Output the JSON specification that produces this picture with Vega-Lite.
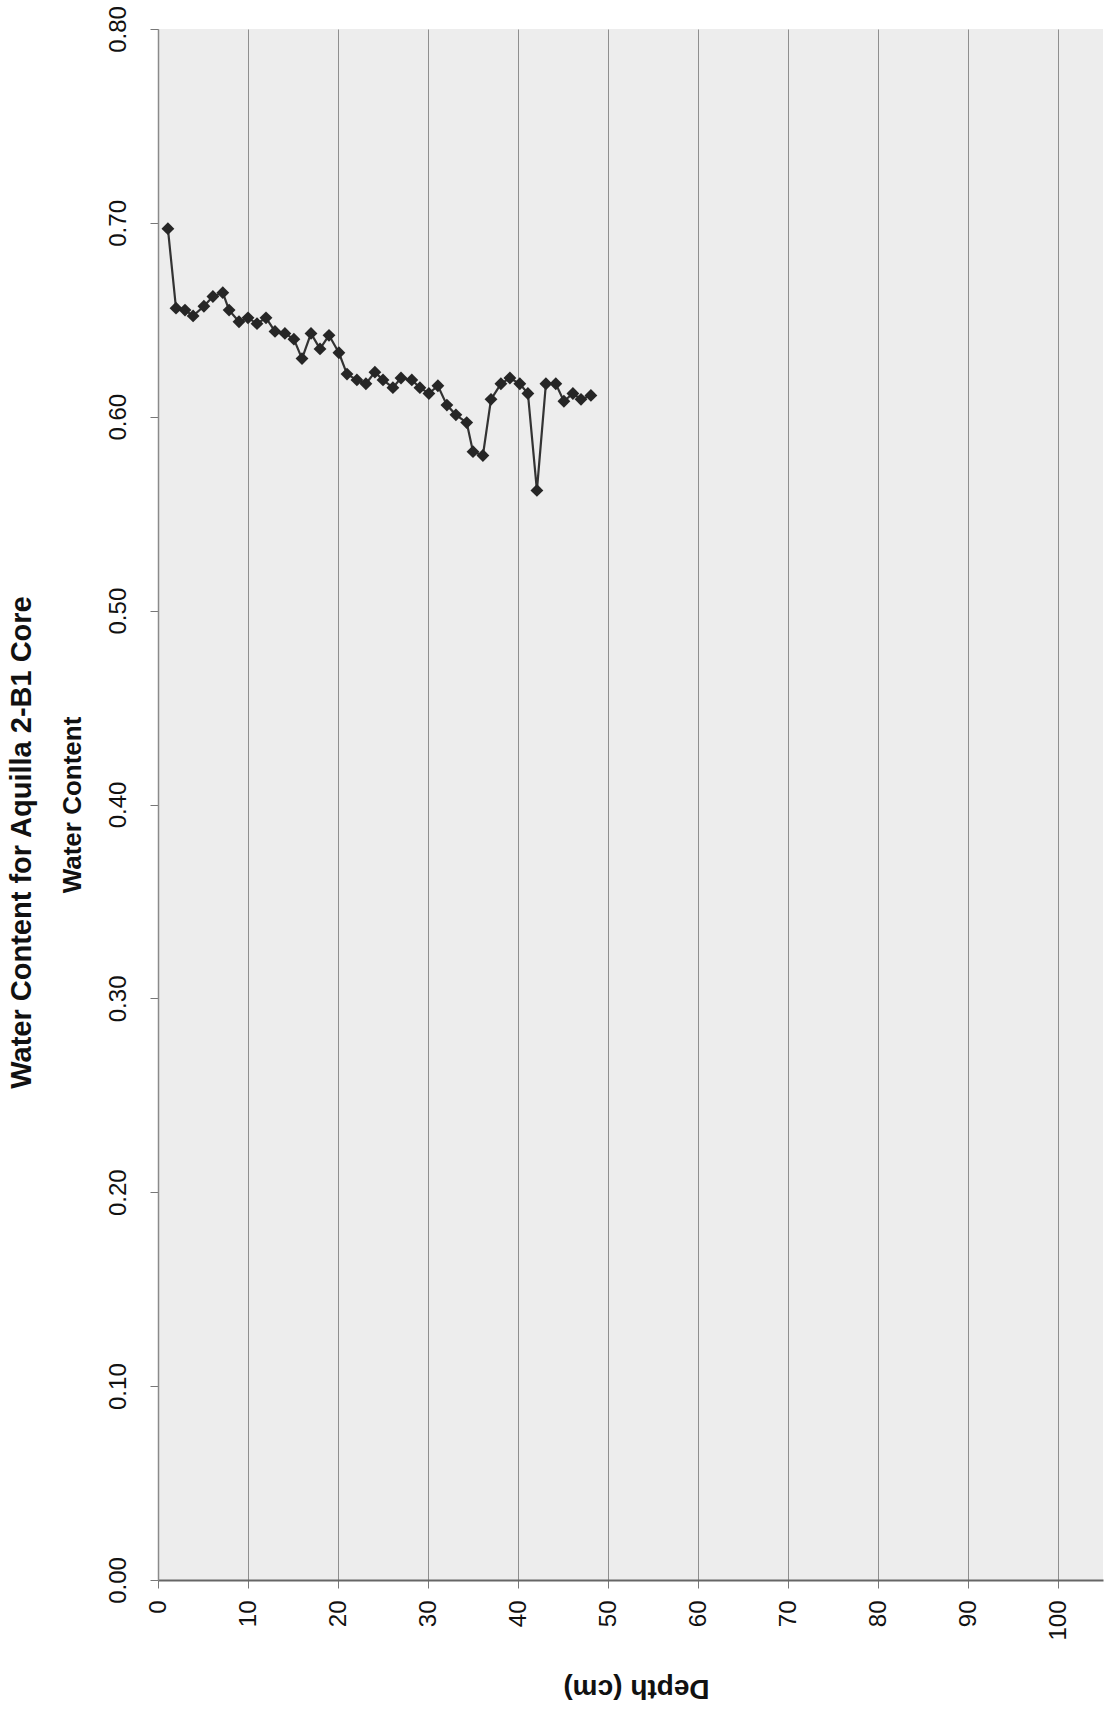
{
  "$schema": "https://vega.github.io/schema/vega-lite/v6.json",
  "width": 945,
  "height": 1551,
  "autosize": {"type": "none"},
  "padding": {"left": 158, "top": 29, "right": 1, "bottom": 135},
  "background": "white",
  "title": {
    "text": "Water Content for Aquilla 2-B1 Core",
    "orient": "left",
    "anchor": "middle",
    "frame": "group",
    "font": "Liberation Sans",
    "fontSize": 29,
    "fontWeight": "bold",
    "color": "#111111",
    "offset": 22,
    "dx": -38
  },
  "config": {
    "view": {"stroke": null, "fill": "#ededed"},
    "font": "Liberation Sans",
    "axis": {"labelFont": "Liberation Sans", "titleFont": "Liberation Sans", "labelColor": "#111111", "titleColor": "#111111", "labelOverlap": false, "labelFlush": false}
  },
  "data": {
    "values": [
      {"depth": 1.1, "wc": 0.697},
      {"depth": 2.0, "wc": 0.656},
      {"depth": 3.0, "wc": 0.655},
      {"depth": 3.9, "wc": 0.652},
      {"depth": 5.1, "wc": 0.657},
      {"depth": 6.1, "wc": 0.662},
      {"depth": 7.2, "wc": 0.664},
      {"depth": 7.9, "wc": 0.655},
      {"depth": 9.0, "wc": 0.649},
      {"depth": 10.0, "wc": 0.651},
      {"depth": 11.0, "wc": 0.648},
      {"depth": 12.0, "wc": 0.651},
      {"depth": 13.0, "wc": 0.644},
      {"depth": 14.1, "wc": 0.643},
      {"depth": 15.1, "wc": 0.640},
      {"depth": 16.0, "wc": 0.630},
      {"depth": 17.0, "wc": 0.643},
      {"depth": 18.0, "wc": 0.635},
      {"depth": 19.0, "wc": 0.642},
      {"depth": 20.1, "wc": 0.633},
      {"depth": 21.0, "wc": 0.622},
      {"depth": 22.1, "wc": 0.619},
      {"depth": 23.1, "wc": 0.617},
      {"depth": 24.1, "wc": 0.623},
      {"depth": 25.0, "wc": 0.619},
      {"depth": 26.1, "wc": 0.615},
      {"depth": 27.0, "wc": 0.620},
      {"depth": 28.2, "wc": 0.619},
      {"depth": 29.1, "wc": 0.615},
      {"depth": 30.1, "wc": 0.612},
      {"depth": 31.1, "wc": 0.616},
      {"depth": 32.1, "wc": 0.606},
      {"depth": 33.1, "wc": 0.601},
      {"depth": 34.3, "wc": 0.597},
      {"depth": 35.0, "wc": 0.582},
      {"depth": 36.1, "wc": 0.580},
      {"depth": 37.0, "wc": 0.609},
      {"depth": 38.1, "wc": 0.617},
      {"depth": 39.1, "wc": 0.620},
      {"depth": 40.2, "wc": 0.617},
      {"depth": 41.1, "wc": 0.612},
      {"depth": 42.1, "wc": 0.562},
      {"depth": 43.1, "wc": 0.617},
      {"depth": 44.2, "wc": 0.617},
      {"depth": 45.1, "wc": 0.608},
      {"depth": 46.1, "wc": 0.612},
      {"depth": 47.0, "wc": 0.609},
      {"depth": 48.1, "wc": 0.611}
    ]
  },
  "encoding": {
    "x": {
      "field": "depth",
      "type": "quantitative",
      "scale": {"domain": [0, 105], "nice": false, "zero": false},
      "axis": {
        "title": "Depth (cm)",
        "titleAngle": 180,
        "titleFontSize": 28,
        "titleFontWeight": "bold",
        "titleX": 478,
        "titleY": 99,
        "titleAlign": "center",
        "titleBaseline": "alphabetic",
        "values": [0, 10, 20, 30, 40, 50, 60, 70, 80, 90, 100],
        "labelAngle": -90,
        "labelAlign": "right",
        "labelBaseline": "middle",
        "labelPadding": 12,
        "labelFontSize": 24,
        "tickSize": 8,
        "tickColor": "#777777",
        "grid": true,
        "gridColor": "#8f8f8f",
        "gridWidth": 1,
        "domainColor": "#666666",
        "domainWidth": 2
      }
    },
    "y": {
      "field": "wc",
      "type": "quantitative",
      "scale": {"domain": [0, 0.8], "nice": false},
      "axis": {
        "title": "Water Content",
        "titleAngle": -90,
        "titleFontSize": 26,
        "titleFontWeight": "bold",
        "titleX": -78,
        "titleY": 775.5,
        "titleAlign": "center",
        "titleBaseline": "alphabetic",
        "values": [0, 0.1, 0.2, 0.3, 0.4, 0.5, 0.6, 0.7, 0.8],
        "format": ".2f",
        "labelAngle": -90,
        "labelAlign": "center",
        "labelBaseline": "alphabetic",
        "labelPadding": 25,
        "labelFontSize": 24,
        "tickSize": 8,
        "tickColor": "#777777",
        "grid": false,
        "domainColor": "#8a8a8a",
        "domainWidth": 1.5
      }
    }
  },
  "layer": [
    {"mark": {"type": "line", "color": "#333333", "strokeWidth": 2.2}},
    {"mark": {"type": "point", "shape": "diamond", "filled": true, "color": "#262626", "size": 165, "opacity": 1}}
  ]
}
